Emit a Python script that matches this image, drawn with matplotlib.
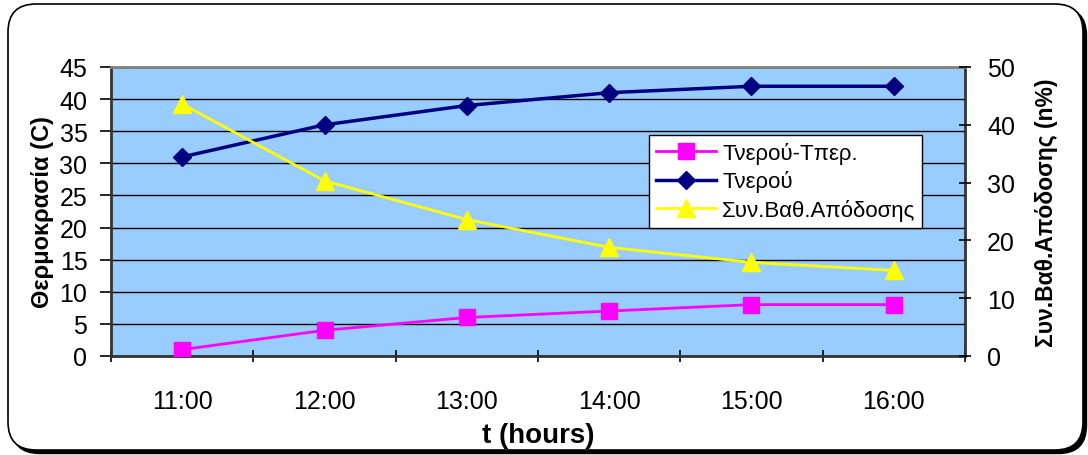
import matplotlib
matplotlib.use("Agg")
import matplotlib.pyplot as plt
from matplotlib.patches import FancyBboxPatch

plt.rcParams['font.family'] = ['Liberation Sans', 'DejaVu Sans']

hours = ["11:00", "12:00", "13:00", "14:00", "15:00", "16:00"]
t_diff = [1, 4, 6, 7, 8, 8]           # Τνερού-Τπερ. (C)
t_water = [31, 36, 39, 41, 42, 42]    # Τνερού (C)
efficiency = [43.6, 30.3, 23.6, 18.8, 16.2, 14.8]  # Συν.Βαθ.Απόδοσης (n%)

W, H = 1088, 456
DPI = 100
fig = plt.figure(figsize=(W / DPI, H / DPI), dpi=DPI)


def px_box(x0, y0, x1, y1):
    """Convert a pixel box (top-left origin) into inches for dpi_scale_trans."""
    return x0 / DPI, (H - y1) / DPI, (x1 - x0) / DPI, (y1 - y0) / DPI


# rounded chart frame with a drop shadow
bx, by, bw, bh = px_box(8, 5, 1083, 451)
shadow = FancyBboxPatch((bx + 0.035, by - 0.035), bw, bh,
                        boxstyle="round,pad=0,rounding_size=0.28",
                        transform=fig.dpi_scale_trans, facecolor="black",
                        edgecolor="black", lw=1, zorder=0)
frame = FancyBboxPatch((bx, by), bw, bh,
                       boxstyle="round,pad=0,rounding_size=0.28",
                       transform=fig.dpi_scale_trans, facecolor="white",
                       edgecolor="black", lw=1.2, zorder=1)
fig.patches.extend([shadow, frame])

ax = fig.add_axes([111 / W, 1 - 357 / H, (965 - 111) / W, (357 - 68) / H])
ax.set_zorder(2)
ax.set_facecolor("#99CCFF")
x = list(range(len(hours)))

ax.set_xlim(-0.5, len(hours) - 0.5)
ax.set_ylim(0, 45)
ax.set_yticks(range(0, 46, 5))
ax.yaxis.grid(True, color="black", lw=1.0)
ax.set_axisbelow(True)
ax.set_xticks(x)
ax.set_xticklabels(hours)
ax.set_xticks([i - 0.5 for i in range(len(hours) + 1)], minor=True)
ax.tick_params(axis="x", which="major", length=0, pad=24, labelsize=18)
ax.tick_params(axis="x", which="minor", length=8, width=1.2, direction="inout")
ax.tick_params(axis="y", length=8, width=1.2, direction="out", labelsize=18, pad=9)

for side in ["left", "bottom", "right"]:
    ax.spines[side].set_color("#333333")
    ax.spines[side].set_linewidth(2)
ax.spines["top"].set_color("#808080")
ax.spines["top"].set_linewidth(2)

l1, = ax.plot(x, t_diff, color="#FF00FF", lw=2, marker="s", markersize=11,
              label="Τνερού-Τπερ.", zorder=3)
l2, = ax.plot(x, t_water, color="#000080", lw=2.5, marker="D", markersize=9,
              label="Τνερού", zorder=3)

ax2 = ax.twinx()
ax2.set_ylim(0, 50)
ax2.set_yticks(range(0, 51, 10))
ax2.tick_params(axis="y", length=8, width=1.2, direction="inout", labelsize=18, pad=12)
for s in ax2.spines.values():
    s.set_visible(False)
l3, = ax2.plot(x, efficiency, color="#FFFF00", lw=2, marker="^", markersize=13,
               label="Συν.Βαθ.Απόδοσης", zorder=3)

ax.set_xlabel("t (hours)", fontsize=20, fontweight="bold", labelpad=6)
ax.set_ylabel("Θερμοκρασία (C)", fontsize=17, fontweight="bold", labelpad=4)
ax2.set_ylabel("Συν.Βαθ.Απόδοσης (n%)", fontsize=16.5, fontweight="bold", labelpad=14)

leg = ax2.legend(handles=[l1, l2, l3], loc="upper left",
                 bbox_to_anchor=(649 / W, 1 - 136 / H), bbox_transform=fig.transFigure,
                 fontsize=16, frameon=True, fancybox=False, framealpha=1,
                 edgecolor="black", borderpad=0.3, labelspacing=0.3,
                 handlelength=2.7, handletextpad=0.3, borderaxespad=0)
leg.get_frame().set_linewidth(1)

fig.savefig("out.png", dpi=DPI)
